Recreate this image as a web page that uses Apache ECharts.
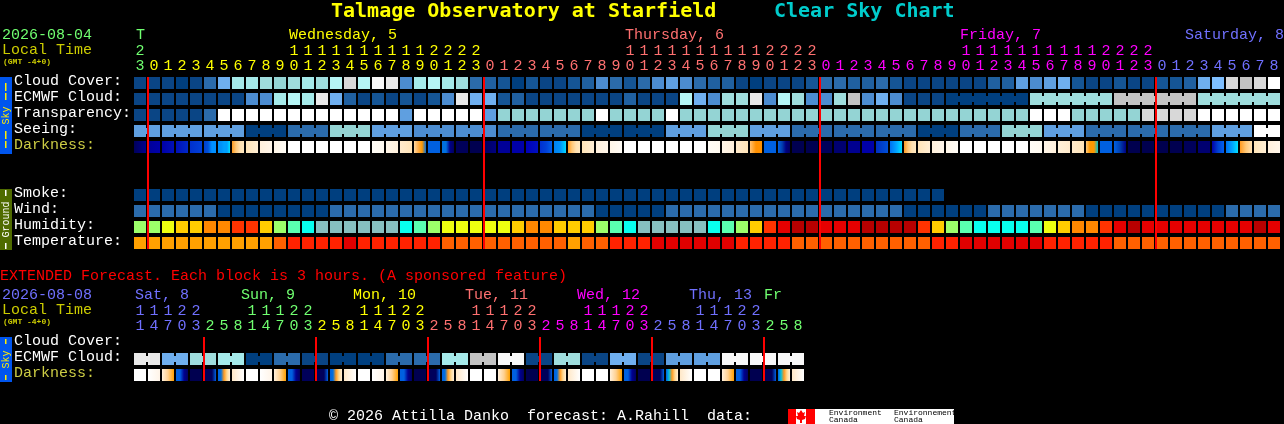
<!DOCTYPE html>
<html><head><meta charset="utf-8">
<style>html,body{margin:0;padding:0;background:#000}#c{width:1284px;height:424px}</style>
<script src="https://cdn.jsdelivr.net/npm/echarts@6/dist/echarts.min.js"></script>
</head><body><div id="c"></div>
<script>
// ---- near-term forecast: one column per hour
const hours = ['23','0','1','2','3','4','5','6','7','8','9','10','11','12','13','14','15','16','17','18','19','20','21','22','23',
 '0','1','2','3','4','5','6','7','8','9','10','11','12','13','14','15','16','17','18','19','20','21','22','23',
 '0','1','2','3','4','5','6','7','8','9','10','11','12','13','14','15','16','17','18','19','20','21','22','23',
 '0','1','2','3','4','5','6','7','8'];
const rowNames = ['Cloud Cover:','ECMWF Cloud:','Transparency:','Seeing:','Darkness:','','','Smoke:','Wind:','Humidity:','Temperature:'];
const cloudCover = [1,1,1,0,1,4,7,11,11,10,9,10,11,10,12,15,12,13,14,5,11,12,11,10,4,3,2,0,2,1,1,2,3,5,4,2,4,5,6,5,4,3,3,1,0,1,1,1,2,4,4,3,3,4,2,1,1,1,1,1,1,3,3,6,5,6,7,2,1,1,2,1,1,2,2,3,7,8,15,16,15,17];
const ecmwfCloud = [1,1,1,1,1,1,1,1,5,5,11,12,11,14,7,3,1,2,1,2,1,2,5,14,7,7,2,3,1,1,1,1,1,1,1,3,1,1,1,12,7,5,10,10,14,5,12,10,5,5,10,16,5,7,5,1,1,1,0,0,0,0,0,0,10,10,10,10,10,10,16,16,16,16,16,16,10,10,10,10,10,10];
const ecmwfSpans = [1,1,1,1,1,1,1,1,1,1,1,1,1,1,1,1,1,1,1,1,1,1,1,1,1,1,1,1,1,1,1,1,1,1,1,1,1,1,1,1,1,1,1,1,1,1,1,1,1,1,1,1,1,1,1,1,1,1,6,6,6,6];
const transparency = [1,1,1,1,1,4,17,17,17,17,17,17,17,17,17,17,17,17,17,6,17,17,17,17,17,6,9,9,9,9,9,9,9,17,9,9,9,9,17,9,9,9,9,9,9,9,9,9,9,9,9,9,9,9,9,9,9,9,9,9,9,9,9,9,17,17,17,9,9,9,9,9,15,15,15,15,17,17,17,17,17,17];
const seeingBlocks = [6,6,6,0,4,9,6,5,5,4,4,0,0,6,9,6,4,4,4,0,4,9,6,4,4,4,6,17];
const seeingSpans = [2,3,3,3,3,3,3,3,3,3,3,3,3,3,3,3,3,3,3,3,3,3,3,3,3,3,3,2];
const smoke = [0,0,0,0,0,0,0,0,0,0,0,0,0,0,0,0,0,0,0,0,0,0,0,0,0,0,0,0,0,0,0,0,0,0,0,0,0,0,0,0,0,0,0,0,0,0,0,0,0,0,0,0,0,0,0,0,0,0];
const wind = [4,4,4,4,4,4,0,0,0,0,0,0,0,0,4,4,4,4,4,4,4,4,4,4,4,4,4,4,4,4,4,4,4,0,0,0,0,0,4,4,4,4,4,4,4,4,4,4,4,4,4,4,4,4,4,0,0,0,0,0,0,4,4,4,4,4,4,4,0,0,0,0,0,0,0,0,0,0,4,4,4,4];
const humidity = [3,3,4,5,5,6,6,7,7,5,3,2,1,0,0,0,0,0,0,1,2,3,4,4,4,4,4,5,6,6,5,5,5,3,2,1,0,0,0,0,0,1,2,3,5,7,8,9,9,8,8,8,9,9,9,9,7,5,3,2,1,1,1,1,2,4,5,6,6,7,8,9,8,8,8,8,8,8,8,8,9,8];
const temperature = [0,0,0,0,0,0,0,0,0,0,1,2,2,2,2,3,2,2,2,2,2,2,1,1,1,1,1,1,1,1,1,0,1,1,2,2,2,3,3,3,3,3,3,2,2,2,2,1,1,1,1,1,1,1,1,1,1,2,2,3,3,3,3,3,3,2,2,2,2,2,1,1,1,1,1,1,1,1,1,1,1,1];
const darkness = [
 '#00005a #000090','#000098 #0000aa','#0000a8 #0010b8','#0010b8 #0028c8','#0030cc #0040d8','#0040d0 #0050d8 #0090ff #0090ff','#0090f8 #0090f8 #00a0ff #00a0ff #00e0ff',
 '#ff9a20 #ffc878 #ffe0b0 #ffe8c0','#ffe4b8 #ffeed4','#fff0dc #fff6ea','#fff6e8 #fffcf6',
 '#ffffff','#ffffff','#ffffff','#ffffff','#ffffff','#ffffff','#fffcf6 #fffaf0','#fff6e8 #fff0dc','#ffeacc #ffe4b8','#ffd8a0 #ffb050 #ff9900 #0070e0',
 '#0060e0','#0070e0 #0070e0 #000088 #000060','#00005a','#000050','#000060 #000080','#000098','#0000a8','#0000b8 #0010c0','#0030d0 #0040d8 #0060e8','#0080f0 #0090f8 #00d8ff',
 '#ff9a20 #ffc878 #ffe0b0 #ffe8c0','#ffe4b8 #ffeed4','#fff0dc #fff6ea','#fff6e8 #fffcf6',
 '#ffffff','#ffffff','#ffffff','#ffffff','#ffffff','#ffffff','#fffcf6 #fffaf0','#fff6e8 #fff0dc','#ffeacc #ffe4b8','#ffc070 #ff9000 #ff9000',
 '#0060e0','#0060e0 #0040b0 #000080 #000060','#000050','#000050','#00005a','#000070','#000090',
 '#0000a8','#0030c0 #0050d8','#0070f0 #00a0ff #00e0ff',
 '#ff9a20 #ffc878 #ffe0b0 #ffe8c0','#ffe4b8 #ffeed4','#fff0dc #fff6ea','#fff6e8 #fffcf6',
 '#ffffff','#ffffff','#ffffff','#ffffff','#ffffff','#fffcf6 #fffaf0','#fff6e8 #fff0dc','#fff0d8 #ffeacc','#ffeacc #ffe4b8','#ffc878 #ff9900 #ff9900 #00c0d0',
 '#0060e0','#0060e0 #0040b0 #000080','#00004f','#00004f','#00004f','#000050','#00005a','#000070','#0000a8 #0040d0 #0060f0','#0070f0 #00a0ff #00e0ff',
 '#ff9a20 #ffc878 #ffe0b0','#ffe4b8 #ffeed4','#fff0dc #fff6ea'];
const midnights = [1,25,49,73];
const dayColumns = [[0,1,'#70ff70'],[1,25,'#ffff00'],[25,49,'#ff7070'],[49,73,'#ff00ff'],[73,82,'#7070ff']];

// ---- extended forecast: one column per 3 hours
const extHours = ['11','14','17','20','23','2','5','8','11','14','17','20','23','2','5','8','11','14','17','20','23','2','5','8','11','14','17','20','23','2','5','8','11','14','17','20','23','2','5','8','11','14','17','20','23','2','5','8'];
const extRowNames = ['Cloud Cover:','ECMWF Cloud:','Darkness:'];
const extEcmwfBlocks = [14,7,10,11,0,4,1,0,0,4,4,11,16,13,1,10,1,7,1,6,6,13,13,13];
const extEcmwfSpans = [2,2,2,2,2,2,2,2,2,2,2,2,2,2,2,2,2,2,2,2,2,2,2,2];
const dusk = '#fff0dc #ffd090 #ffa000', night0 = '#0060e0 #0060e0 #000090 #000060', dawn0 = '#00005a #00005a #00005a #0060e0',
      dawn1 = '#0060e0 #0070e0 #ff9a20 #ffd890 #ffeed8', dawn1c = '#0060e0 #00c0e0 #ff9a20 #ffd890 #ffeed8', morn = '#ffe8c8 #ffffff', eve = '#ffffff #fff4e8';
const extDarkness = ['#ffffff',eve,dusk,night0,'#000050',dawn0,dawn1,morn,
 '#ffffff',eve,dusk,night0,'#00005a',dawn0,dawn1,morn,
 '#ffffff',eve,dusk,night0,'#000050',dawn0,dawn1,morn,
 '#ffffff','#ffffff',dusk,night0,'#000050',dawn0,dawn1,morn,
 '#ffffff','#ffffff',dusk,night0,'#000050',dawn0,dawn1c,morn,
 '#ffffff','#ffffff',dusk,night0,'#000050',dawn0,dawn1c,morn];
const extMidnights = [5,13,21,29,37,45];
const extDayColumns = [[0,5,'#7070ff'],[5,13,'#70ff70'],[13,21,'#ffff00'],[21,29,'#ff7070'],[29,37,'#ff00ff'],[37,45,'#7070ff'],[45,48,'#70ff70']];

// ---- colour scales
const skyPalette = ['#003f7f','#0a4585','#155595','#2060a0','#2b6bab','#4c8cd0','#5f9fe0','#6fafef','#7fbfff','#94d4d4','#9fdddd','#a5eaea','#b5f5f5','#f8f8f8','#e9e9e9','#d8d8d8','#c3c3c3','#ffffff'];
const humidityPalette = ['#86bfbf','#08ffee','#5affb0','#9cff6a','#eeff10','#ffcc00','#ff8800','#ff3300','#e60000','#b80000'];
const temperaturePalette = ['#ffa000','#ff6000','#ff2200','#e00000'];

// ---- build
function expand(blocks, spans){const o=[];blocks.forEach((b,i)=>{for(let k=0;k<spans[i];k++)o.push(b);});return o;}
function linksOf(spans){const o=[];spans.forEach(s=>{for(let k=0;k<s;k++)o.push(k<s-1);});return o;}
function addRow(cells,row,values,palette,links){
  values.forEach((v,col)=>cells.push({col,row,color:palette?palette[v]:v,link:links?links[col]:false}));
}
const seeing = expand(seeingBlocks,seeingSpans);
const cells = [];
addRow(cells,0,cloudCover,skyPalette);
addRow(cells,1,ecmwfCloud,skyPalette,linksOf(ecmwfSpans));
addRow(cells,2,transparency,skyPalette);
addRow(cells,3,seeing,skyPalette,linksOf(seeingSpans));
addRow(cells,4,darkness,null);
addRow(cells,7,smoke,skyPalette);
addRow(cells,8,wind,skyPalette);
addRow(cells,9,humidity,humidityPalette);
addRow(cells,10,temperature,temperaturePalette);
const extCells = [];
addRow(extCells,1,expand(extEcmwfBlocks,extEcmwfSpans),skyPalette,linksOf(extEcmwfSpans));
addRow(extCells,2,extDarkness,null);

function fillOf(c){
  if(c.indexOf(' ')<0) return c;
  const p=c.split(' ');
  return {type:'linear',x:0,y:0,x2:1,y2:0,colorStops:p.map((s,i)=>({offset:i/(p.length-1),color:s}))};
}
const BW=12,BH=12,GAP=2,NOTCH=6;
function cellSeries(list,idx){
  return {type:'custom',xAxisIndex:idx,yAxisIndex:idx,coordinateSystem:'cartesian2d',clip:false,silent:true,animation:false,
    data:list.map(c=>[c.col,c.row]),
    renderItem(params,api){
      const c=list[params.dataIndex];
      const p=api.coord([c.col,c.row]);
      const x=p[0]-7+1,y=p[1]-BH/2,fill=fillOf(c.color);
      const kids=[{type:'rect',shape:{x,y,width:BW,height:BH},style:{fill}}];
      if(c.link) kids.push({type:'rect',shape:{x:x+BW,y:y+(BH-NOTCH)/2,width:GAP,height:NOTCH},
        style:{fill:c.color.split(' ').pop()}});
      return {type:'group',children:kids};
    }};
}
function lineSeries(cols,rowA,rowB,idx){
  return {type:'custom',xAxisIndex:idx,yAxisIndex:idx,coordinateSystem:'cartesian2d',clip:false,silent:true,animation:false,z:5,
    data:cols.map(c=>[c,rowA]),
    renderItem(params,api){
      const a=api.coord([cols[params.dataIndex],rowA]),b=api.coord([cols[params.dataIndex],rowB]);
      return {type:'rect',shape:{x:a[0]-7,y:a[1]-6,width:2,height:b[1]-a[1]+12},style:{fill:'#ff0000'}};
    }};
}
function colourAt(ranges,i){for(const r of ranges) if(i>=r[0]&&i<r[1]) return r[2];return '#fff';}
const MONO='"Liberation Mono"';
function xAxisOf(idx,labels,ranges){
  return {type:'category',gridIndex:idx,position:'top',data:labels,
    axisLine:{show:false},axisTick:{show:false},splitLine:{show:false},
    axisLabel:{interval:0,margin:1,fontFamily:MONO,fontSize:15,lineHeight:15,hideOverlap:false,verticalAlign:'bottom',
      formatter:v=>v.length>1?v[0]+'\n'+v[1]:'\n'+v,
      color:(v,i)=>colourAt(ranges,i)}};
}
function yAxisOf(idx,labels){
  return {type:'category',gridIndex:idx,inverse:true,data:labels,
    axisLine:{show:false},axisTick:{show:false},splitLine:{show:false},
    axisLabel:{interval:0,margin:119,align:'left',fontFamily:MONO,fontSize:15,verticalAlign:'bottom',lineHeight:3,
      color:v=>v==='Darkness:'?'#cccc44':'#ffffff'}};
}
function t(x,y,text,fill,font){return {type:'text',x,y,silent:true,style:{text,fill,font:font||('15px '+MONO),verticalAlign:'middle',align:'left'}};}
function dash(y,h,fill){return {type:'rect',silent:true,shape:{x:5,y,width:1.5,height:h},style:{fill}};}
function side(y,h,bg,text,fill,textY,dashes){
  return [{type:'rect',shape:{x:0,y,width:12,height:h},style:{fill:bg},silent:true},
    {type:'text',x:6.5,y:textY,rotation:Math.PI/2,silent:true,style:{text,fill,font:'10px '+MONO,align:'center',verticalAlign:'middle'}},
    ...dashes.map(d=>dash(d[0],d[1],fill))];
}
const texts=[
  t(331,12,'Talmage Observatory at Starfield','#ffff00','bold 20px "DejaVu Sans Mono"'),
  t(774,12,'Clear Sky Chart','#00cccc','bold 20px "DejaVu Sans Mono"'),
  t(2,35,'2026-08-04','#70ff70'),t(2,50,'Local Time','#cccc00'),t(3,62,'(GMT -4+0)','#cccc00','bold 8px '+MONO),
  t(136,35,'T','#70ff70'),t(289,35,'Wednesday, 5','#ffff00'),t(625,35,'Thursday, 6','#ff7070'),t(960,35,'Friday, 7','#ff00ff'),t(1185,35,'Saturday, 8','#7070ff'),
  t(0,276,'EXTENDED Forecast. Each block is 3 hours. (A sponsored feature)','#ff0000'),
  t(2,295,'2026-08-08','#7070ff'),t(2,310,'Local Time','#cccc00'),t(3,322,'(GMT -4+0)','#cccc00','bold 8px '+MONO),
  t(135,295,'Sat, 8','#7070ff'),t(241,295,'Sun, 9','#70ff70'),t(353,295,'Mon, 10','#ffff00'),t(465,295,'Tue, 11','#ff7070'),t(577,295,'Wed, 12','#ff00ff'),t(689,295,'Thu, 13','#7070ff'),t(764,295,'Fr','#70ff70'),
  t(329,416,'\u00a9 2026 Attilla Danko  forecast: A.Rahill  data:','#ffffff'),
  ...side(77,77,'#0055ee','Sky','#ffee00',115.5,[[83,8],[93,7],[131,8],[141,7]]),
  ...side(189,61,'#4f6b00','Ground','#ffffff',219.5,[[190,6],[243,6]]),
  ...side(337,45,'#0055ee','Sky','#ffee00',359.5,[[339,5],[375,5]]),
  {type:'rect',silent:true,shape:{x:788,y:409,width:166,height:15},style:{fill:'#ffffff'}},
  {type:'rect',silent:true,shape:{x:788,y:409,width:8,height:15},style:{fill:'#ff0000'}},
  {type:'rect',silent:true,shape:{x:806,y:409,width:9,height:15},style:{fill:'#ff0000'}},
  {type:'polygon',silent:true,shape:{points:[[801,410],[803,413],[805,412],[804,416],[806,416],[805,419],[802,420],[802,423],[800,423],[800,420],[797,419],[796,416],[798,416],[797,412],[799,413]]},style:{fill:'#ff0000'}},
  t(829,413,'Environment','#000000','8px '+MONO),t(829,420,'Canada','#000000','8px '+MONO),
  t(894,413,'Environnement','#000000','8px '+MONO),t(894,420,'Canada','#000000','8px '+MONO)
];
const chart=echarts.init(document.getElementById('c'),null,{renderer:'canvas'});
chart.setOption({
  backgroundColor:'#000000',animation:false,
  grid:[{left:133,top:75,width:82*14,height:11*16},{left:133,top:335,width:48*14,height:3*16}],
  xAxis:[xAxisOf(0,hours,dayColumns),xAxisOf(1,extHours,extDayColumns)],
  yAxis:[yAxisOf(0,rowNames),yAxisOf(1,extRowNames)],
  series:[cellSeries(cells,0),lineSeries(midnights,0,10,0),cellSeries(extCells,1),lineSeries(extMidnights,0,2,1)],
  graphic:{elements:texts}
});
</script></body></html>
